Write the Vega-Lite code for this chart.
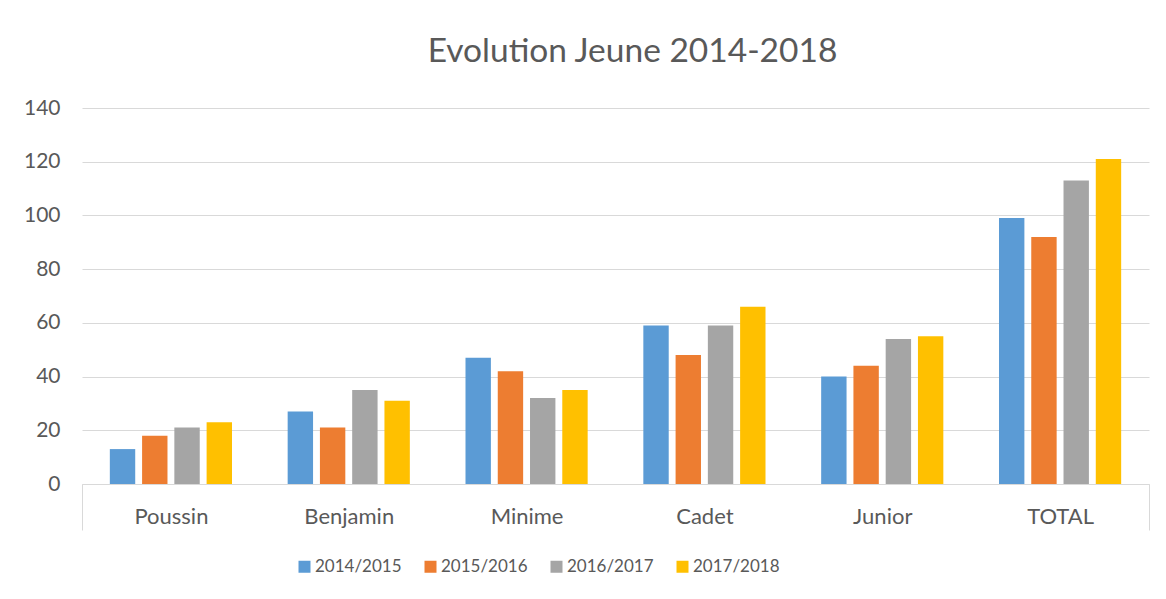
{
  "$schema": "https://vega.github.io/schema/vega-lite/v6.json",
  "autosize": {"type": "none"},
  "padding": {"left": 82, "top": 108, "right": 17, "bottom": 115},
  "width": 1067,
  "height": 376,
  "background": "white",
  "title": {
    "text": "Evolution Jeune 2014-2018",
    "font": "Lato",
    "fontSize": 33.5,
    "fontWeight": "normal",
    "color": "#595959",
    "anchor": "middle",
    "dx": 17,
    "offset": 28
  },
  "config": {
    "view": {"stroke": null},
    "font": "Lato"
  },
  "data": {
    "values": [
      {"cat": "Poussin", "season": "2014/2015", "value": 13},
      {"cat": "Poussin", "season": "2015/2016", "value": 18},
      {"cat": "Poussin", "season": "2016/2017", "value": 21},
      {"cat": "Poussin", "season": "2017/2018", "value": 23},
      {"cat": "Benjamin", "season": "2014/2015", "value": 27},
      {"cat": "Benjamin", "season": "2015/2016", "value": 21},
      {"cat": "Benjamin", "season": "2016/2017", "value": 35},
      {"cat": "Benjamin", "season": "2017/2018", "value": 31},
      {"cat": "Minime", "season": "2014/2015", "value": 47},
      {"cat": "Minime", "season": "2015/2016", "value": 42},
      {"cat": "Minime", "season": "2016/2017", "value": 32},
      {"cat": "Minime", "season": "2017/2018", "value": 35},
      {"cat": "Cadet", "season": "2014/2015", "value": 59},
      {"cat": "Cadet", "season": "2015/2016", "value": 48},
      {"cat": "Cadet", "season": "2016/2017", "value": 59},
      {"cat": "Cadet", "season": "2017/2018", "value": 66},
      {"cat": "Junior", "season": "2014/2015", "value": 40},
      {"cat": "Junior", "season": "2015/2016", "value": 44},
      {"cat": "Junior", "season": "2016/2017", "value": 54},
      {"cat": "Junior", "season": "2017/2018", "value": 55},
      {"cat": "TOTAL", "season": "2014/2015", "value": 99},
      {"cat": "TOTAL", "season": "2015/2016", "value": 92},
      {"cat": "TOTAL", "season": "2016/2017", "value": 113},
      {"cat": "TOTAL", "season": "2017/2018", "value": 121}
    ]
  },
  "mark": {"type": "bar"},
  "encoding": {
    "x": {
      "field": "cat",
      "type": "nominal",
      "sort": ["Poussin", "Benjamin", "Minime", "Cadet", "Junior", "TOTAL"],
      "scale": {"paddingInner": 0.313, "paddingOuter": 0.1565},
      "axis": {
        "title": null,
        "labelAngle": 0,
        "labelFont": "Lato",
        "labelFontSize": 22,
        "labelColor": "#595959",
        "labelPadding": -24,
        "labelOffset": {"expr": "datum.index < 0.5 ? (range('x')[1] / 12) : -(range('x')[1] / 12)"},
        "domainColor": "#D9D9D9",
        "domainWidth": 1,
        "ticks": true,
        "tickSize": 46,
        "tickColor": "#D9D9D9",
        "tickWidth": 1,
        "tickOffset": {"expr": "datum.index < 0.5 ? -(range('x')[1] / 12) : (range('x')[1] / 12)"},
        "tickOpacity": {"condition": {"test": "datum.index == 0 || datum.index == 1", "value": 1}, "value": 0},
        "grid": false
      }
    },
    "xOffset": {
      "field": "season",
      "type": "nominal",
      "scale": {"paddingInner": 0.213, "paddingOuter": 0}
    },
    "y": {
      "field": "value",
      "type": "quantitative",
      "scale": {"domain": [0, 140], "nice": false},
      "axis": {
        "title": null,
        "values": [0, 20, 40, 60, 80, 100, 120, 140],
        "labelFont": "Lato",
        "labelFontSize": 21,
        "labelColor": "#595959",
        "labelPadding": 22,
        "ticks": false,
        "domain": false,
        "grid": true,
        "gridColor": "#D9D9D9",
        "gridWidth": 1
      }
    },
    "color": {
      "field": "season",
      "type": "nominal",
      "scale": {
        "domain": ["2014/2015", "2015/2016", "2016/2017", "2017/2018"],
        "range": ["#5B9BD5", "#ED7D31", "#A5A5A5", "#FFC000"]
      },
      "legend": {
        "title": null,
        "orient": "none",
        "legendX": 214,
        "legendY": 450,
        "direction": "horizontal",
        "columns": 4,
        "symbolType": "square",
        "symbolSize": 144,
        "symbolStrokeWidth": 0,
        "labelFont": "Lato",
        "labelFontSize": 17,
        "labelColor": "#595959",
        "labelOffset": 2,
        "columnPadding": 20
      }
    }
  }
}
